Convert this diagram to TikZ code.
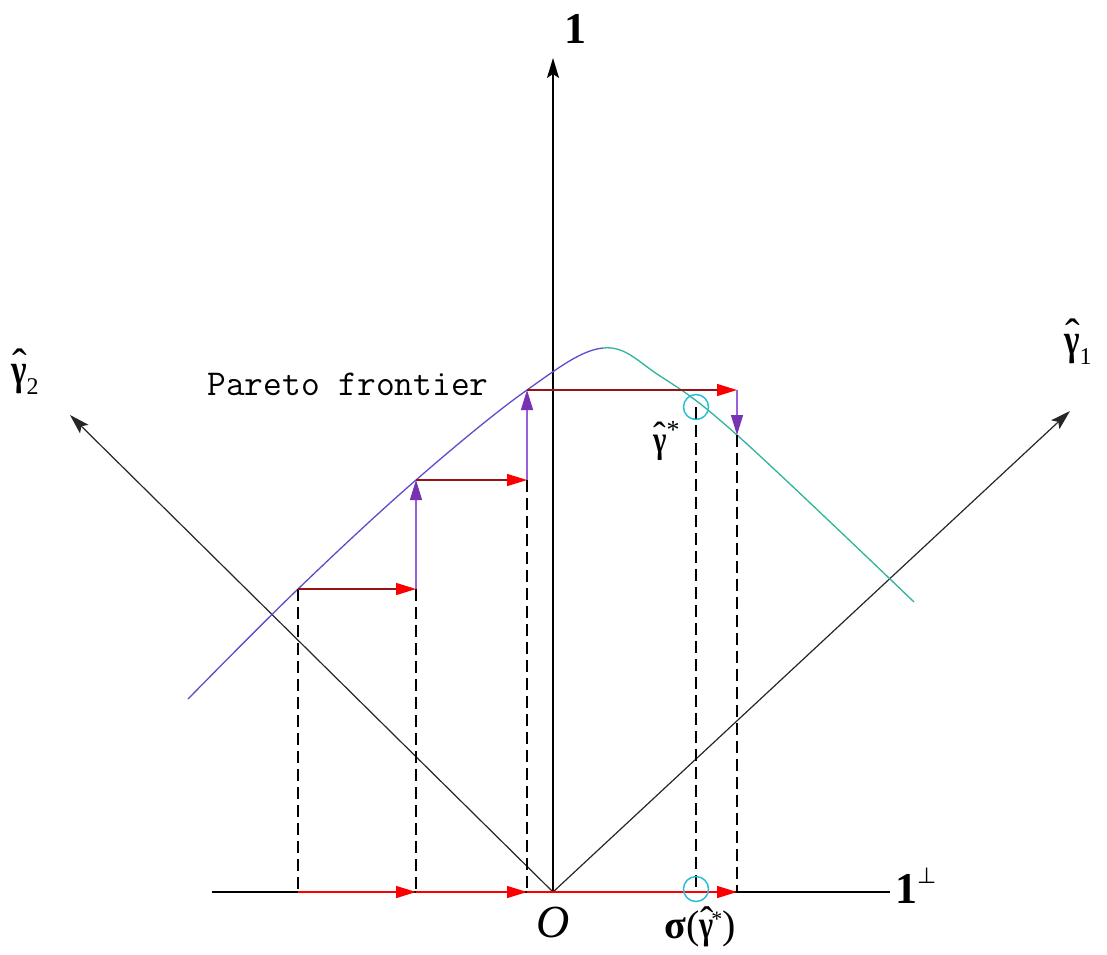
\documentclass[tikz,border=0pt]{standalone}
\usepackage{graphicx}
\usepackage{fontspec}
\setmainfont{Liberation Serif}
\newfontfamily\djv{DejaVu Sans}
\usetikzlibrary{arrows.meta}
\newcommand{\hgam}{\makebox[0pt][l]{\kern0.02em\raisebox{0.10em}{\mdseries ˆ}}\scalebox{0.75}[1]{\textbf{γ}}}
\definecolor{curveblue}{RGB}{95,75,205}
\definecolor{curvegreen}{RGB}{45,180,155}
\definecolor{stepred}{RGB}{150,20,20}
\definecolor{headred}{RGB}{250,0,0}
\definecolor{steppurple}{RGB}{155,95,215}
\definecolor{headpurple}{RGB}{120,50,180}
\definecolor{ringcyan}{RGB}{40,190,215}
\tikzset{
  axisline/.style={line width=1.5pt, -{Stealth[length=20pt,width=12pt,inset=4pt]}},
  diagaxis/.style={line width=1.2pt, draw=black!85, -{Stealth[length=20pt,width=12pt,inset=4pt]}},
  redstep/.style={draw=stepred, line width=1.4pt, -{Triangle[length=20pt,width=12pt,color=headred]}},
  redbase/.style={draw=headred, line width=1.4pt, -{Triangle[length=20pt,width=12pt,color=headred]}},
  purstep/.style={draw=steppurple, line width=1.4pt, -{Triangle[length=20pt,width=12pt,color=headpurple]}},
  proj/.style={draw=black, line width=1.6pt, dash pattern=on 12pt off 6pt},
  ring/.style={draw=ringcyan, line width=1.5pt, circle, minimum size=25pt, inner sep=0pt},
  curvepen/.style={line width=1.3pt},
  biglab/.style={font=\fontsize{44}{44}\selectfont, inner sep=0pt},
}
\begin{document}
\begin{tikzpicture}[x=1pt,y=-1pt]
\useasboundingbox (0,0) rectangle (1107,954);
% key points
\coordinate (O) at (553,892);
\coordinate (Ytip) at (553,58);
\coordinate (Xl) at (212,892);
\coordinate (Xr) at (890,892);
\coordinate (G1tip) at (1070,411);
\coordinate (G2tip) at (70,415);
\coordinate (P1) at (298,589);
\coordinate (P2) at (416,589);
\coordinate (P3) at (416,480);
\coordinate (P4) at (527,480);
\coordinate (P5) at (527,390);
\coordinate (P6) at (737,390);
\coordinate (P7) at (737,435);
\coordinate (B1) at (298,892);
\coordinate (B2) at (416,892);
\coordinate (B3) at (527,892);
\coordinate (B6) at (737,892);
\coordinate (S) at (696,407);
\coordinate (SB) at (696,892);
% axes
\draw[line width=1.5pt] (Xl) -- (Xr);
\draw[axisline] (O) -- (Ytip);
\draw[diagaxis] (O) -- (G1tip);
\draw[diagaxis] (O) -- (G2tip);
% frontier
\begin{scope}
\clip (0,0) rectangle (603,954);
\draw[curveblue, curvepen] plot[smooth, tension=0.6] coordinates {(188,699) (298,589) (416,480) (527,390) (603,348) (660,376) (737,435) (914,602)};
\end{scope}
\begin{scope}
\clip (603,0) rectangle (1107,954);
\draw[curvegreen, curvepen] plot[smooth, tension=0.6] coordinates {(188,699) (298,589) (416,480) (527,390) (603,348) (660,376) (737,435) (914,602)};
\end{scope}
% projections
\draw[proj] (P1) -- (B1);
\draw[proj] (P2) -- (B2);
\draw[proj] (P4) -- (B3);
\draw[proj] (P7) -- (B6);
\draw[proj] (S) -- (SB);
% steps
\draw[redstep] (P1) -- (P2);
\draw[purstep] (P2) -- (P3);
\draw[redstep] (P3) -- (P4);
\draw[purstep] (P4) -- (P5);
\draw[redstep] (P5) -- (P6);
\draw[purstep] (P6) -- (P7);
% base arrows
\draw[redbase] (B1) -- (B2);
\draw[redbase] (B2) -- (B3);
\draw[redbase] (B3) -- (B6);
% rings
\node[ring] (ringtop) at (S) {};
\node[ring] (ringbot) at (696,889) {};
% labels
\node[biglab, font=\bfseries\fontsize{44}{44}\selectfont, anchor=base] (lone) at (575,43) {1};
\node[biglab, anchor=base west] (lperp) at (895,903) {\textbf{1}\raisebox{20pt}{\fontsize{22}{22}\selectfont\djv ⊥}};
\node[biglab, anchor=base west] (lg1) at (1064,354) {\hgam\raisebox{-10pt}{\fontsize{24}{24}\selectfont 1}};
\node[biglab, anchor=base west] (lg2) at (11,384) {\hgam\raisebox{-10pt}{\fontsize{24}{24}\selectfont 2}};
\node[biglab, font=\fontsize{38}{38}\selectfont, anchor=base west] (lgs) at (653,452) {\hgam\raisebox{14pt}{\fontsize{26}{26}\selectfont *}};
\node[biglab, font=\itshape\fontsize{46}{46}\selectfont, anchor=base] (lO) at (553,937) {O};
\node[biglab, font=\fontsize{40}{40}\selectfont, anchor=base] (lsig) at (700,938) {\textbf{σ}(\hgam\kern-2pt\raisebox{12pt}{\fontsize{22}{22}\selectfont *})};
\node[inner sep=0pt, font=\ttfamily\fontsize{36.4}{40}\selectfont, anchor=base] (lpf) at (348,395) {Pareto frontier};
\end{tikzpicture}
\end{document}
